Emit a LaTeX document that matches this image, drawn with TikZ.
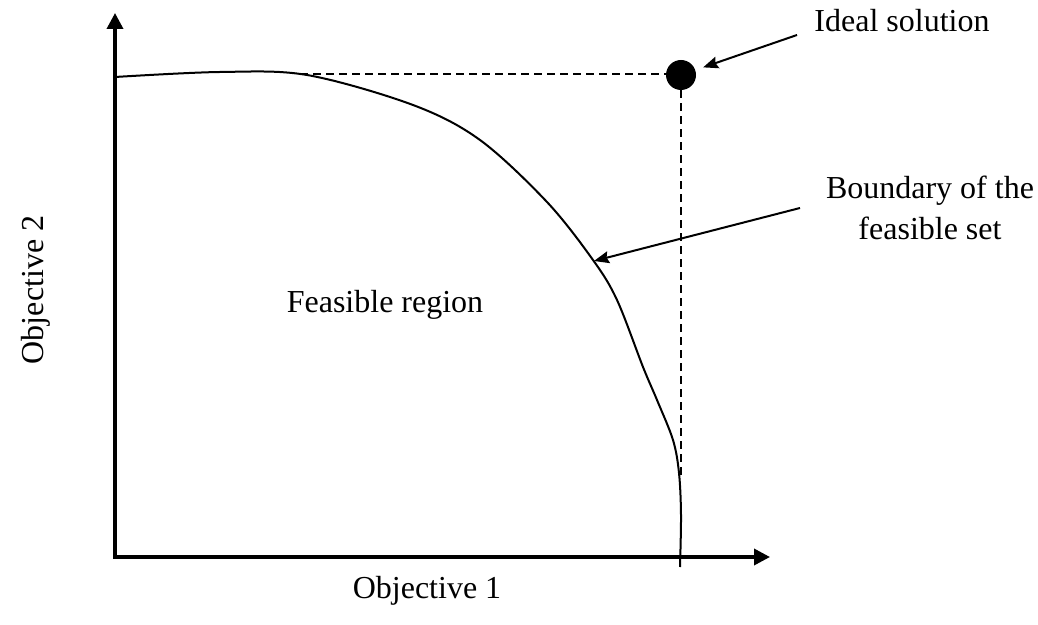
\documentclass[tikz,border=0pt]{standalone}
\usepackage{fontspec}
\setmainfont{Liberation Serif}
\usetikzlibrary{arrows.meta,positioning}

\begin{document}
\begin{tikzpicture}[
  x=0.5pt, y=-0.5pt,
  axis/.style={line width=1.75pt, {Triangle[length=8pt,width=8pt]}-{Triangle[length=8pt,width=8pt]}},
  front/.style={line width=1pt},
  guide/.style={line width=0.75pt, dash pattern=on 4pt off 2.5pt},
  pointer/.style={-{Stealth[length=7.5pt,width=6pt,inset=1pt]}, line width=1pt},
  label/.style={font=\fontsize{16}{20.5}\selectfont, inner sep=0pt, text centered}
]
\useasboundingbox (0,0) rectangle (1038,625);

% Axes
\coordinate (O) at (115,557);
\coordinate (ytip) at (115,13);
\coordinate (xtip) at (770,557);
\draw[axis] (ytip) -- (O) -- (xtip);
\node[label, anchor=base] (obj1) at (427,598) {Objective 1};
\node[label, anchor=base, rotate=90] (obj2) at (43,290) {Objective 2};

% Ideal point and guides
\node[circle, fill=black, inner sep=0pt, minimum size=15pt] (ideal) at (681,75) {};
\coordinate (hstart) at (300,74);
\coordinate (vend) at (681,475);
\draw[guide] (hstart) -- (ideal.west |- hstart);
\draw[guide] (ideal.south) -- (vend);

% Boundary of the feasible set
\draw[front] plot[smooth, tension=0.55] coordinates {
  (115,77) (220,72) (307,75) (413,105) (480,140) (547,202) (593,260)
  (617,300) (643,367) (657,400) (673,440) (679,473) (681,515) (680,567)};
\node[label, anchor=base] (region) at (385,313) {Feasible region};

% Labels with arrows
\node[label, anchor=base] (idealtxt) at (902,32) {Ideal solution};
\coordinate (idealtail) at (797,35);
\draw[pointer, shorten >=4pt] (idealtail) -- (ideal);

\node[label, align=center] (bndtxt) at (930,208) {Boundary of the\\feasible set};
\coordinate (bndtail) at (800,208);
\coordinate (bndtip) at (594,261);
\draw[pointer] (bndtail) -- (bndtip);

\end{tikzpicture}
\end{document}
